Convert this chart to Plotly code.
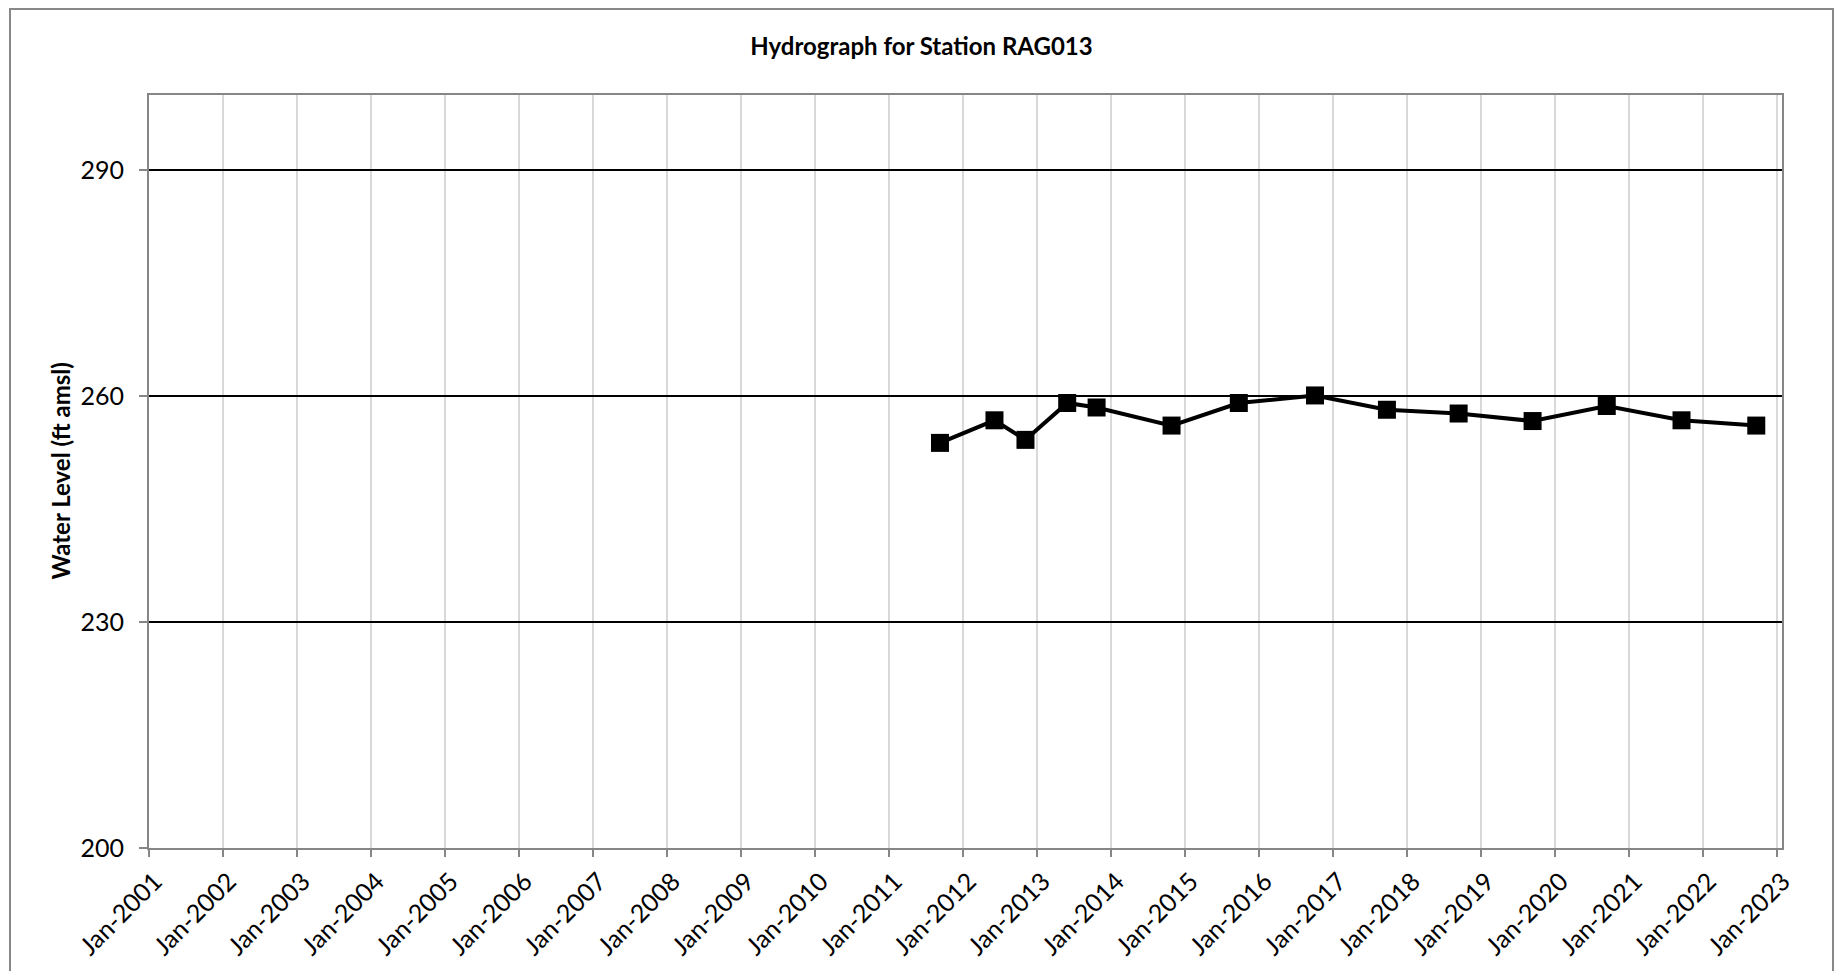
import plotly.graph_objects as go

# ---- data ----
dates = ["2011-09-10", "2012-06-05", "2012-11-05", "2013-05-30", "2013-10-22",
         "2014-10-27", "2015-09-24", "2016-10-04", "2017-09-24", "2018-09-13",
         "2019-09-13", "2020-09-13", "2021-09-17", "2022-09-21"]
water_level = [253.8, 256.8, 254.2, 259.1, 258.5,
               256.1, 259.1, 260.1, 258.2, 257.7,
               256.7, 258.7, 256.8, 256.1]
tick_years = list(range(2001, 2024))
y_ticks = [200, 230, 260, 290]

title_text = "Hydrograph for Station RAG013"
y_title = "Water Level (ft amsl)"

tickvals = [f"{y}-01-01" for y in tick_years]
ticktext = [f"Jan-{y}" for y in tick_years]

W, H = 1835, 971
L, R, T, B = 149, 1782, 95, 848
pw, ph = R - L, B - T

FONT = "Lato, 'Open Sans', sans-serif"

fig = go.Figure()
fig.add_trace(go.Scatter(
    x=dates, y=water_level, mode="lines+markers",
    line=dict(color="black", width=4),
    marker=dict(symbol="square", size=18, color="black"),
    showlegend=False,
))

fig.update_layout(
    width=W, height=H,
    margin=dict(l=L, r=W - R, t=T, b=H - B, autoexpand=False),
    paper_bgcolor="white", plot_bgcolor="white",
    font=dict(family=FONT, color="black", size=25),
    title=dict(text=f"<b>{title_text}</b>", x=921.5 / W, xref="container",
               y=1 - 47 / H, yref="container", xanchor="center", yanchor="middle",
               font=dict(family=FONT, size=24, color="black")),
    xaxis=dict(
        type="date", range=["2001-01-01", "2023-01-26"],
        tickvals=tickvals, ticktext=ticktext, tickangle=-45,
        showgrid=True, gridcolor="#d9d9d9", gridwidth=2,
        showline=True, linecolor="#868686", linewidth=2, mirror=True,
        ticks="outside", ticklen=7, tickwidth=2, tickcolor="#868686",
        tickfont=dict(family=FONT, size=25, color="black"),
        zeroline=False, ticklabelstandoff=0, ticklabelshift=6,
    ),
    yaxis=dict(
        range=[200, 300], tickvals=y_ticks,
        showgrid=True, gridcolor="black", gridwidth=1.5,
        showline=True, linecolor="#868686", linewidth=2, mirror=True,
        ticks="outside", ticklen=8, tickwidth=2, tickcolor="#868686",
        tickfont=dict(family=FONT, size=25, color="black"),
        zeroline=False, ticklabelstandoff=10,
    ),
)

fig.add_annotation(
    text=f"<b>{y_title}</b>", textangle=-90,
    xref="paper", yref="paper", x=(60 - L) / pw, y=0.5,
    xanchor="center", yanchor="middle", showarrow=False,
    font=dict(family=FONT, size=24, color="black"),
)

# outer chart border
fig.add_shape(
    type="rect", xref="paper", yref="paper",
    x0=(10 - L) / pw, x1=(1833 - L) / pw,
    y0=(B - 985) / ph, y1=(B - 9) / ph,
    line=dict(color="#888888", width=2), fillcolor="rgba(0,0,0,0)",
    layer="below",
)

fig.write_html(
    "out.html",
    config={"displayModeBar": False},
    post_script="document.body.style.margin='0';document.body.style.overflow='hidden';",
)
